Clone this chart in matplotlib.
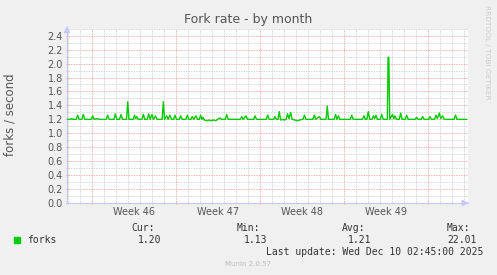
import numpy as np
import matplotlib.pyplot as plt
from matplotlib.ticker import MultipleLocator, FixedLocator, NullFormatter

# days since start of the graph window, and fork rate (forks / second)
days = [0.0, 0.3, 0.4, 0.5, 0.77, 0.89, 1.01, 1.24, 1.36, 1.48,
        2.02, 2.14, 2.26, 2.5, 2.7, 3.27, 3.39, 3.51, 3.91, 4.03, 4.15,
        4.38, 4.5, 4.62, 4.96, 5.06, 5.16, 5.51, 5.63, 5.72, 5.81, 5.93,
        6.24, 6.36, 6.48, 6.69, 6.81, 6.93, 7.08, 7.2, 7.38, 7.5,
        7.93, 8.03, 8.13, 8.31, 8.43, 8.58, 8.7, 8.88, 9.0, 9.12,
        9.36, 9.48, 9.6, 9.91, 10.03, 10.15, 10.32, 10.44, 10.56, 10.75, 10.87,
        11.02, 11.14, 11.24, 11.33, 11.45, 11.7, 11.85, 12.0, 12.2, 12.4, 12.55,
        12.75, 12.87, 13.19, 13.31, 13.43, 14.44, 14.56, 14.68, 14.92, 15.04,
        15.55, 15.67, 15.79, 16.61, 16.73, 16.85, 17.21, 17.33, 17.45, 17.59,
        17.69, 17.81, 18.0, 18.1, 18.26, 18.38, 18.5, 18.64, 18.76,
        19.0, 19.2, 19.4, 19.55, 19.67, 19.79, 19.91, 20.49, 20.61, 20.73,
        21.04, 21.16, 21.59, 21.69, 21.79, 22.26, 22.38, 22.5, 22.61, 22.73,
        23.61, 23.73, 23.85, 24.63, 24.75, 24.87, 24.99, 25.11, 25.23,
        25.42, 25.54, 25.64, 25.75, 25.87, 26.11, 26.23, 26.35,
        26.7, 26.76, 26.82, 26.9, 27.13, 27.23, 27.33, 27.45,
        27.69, 27.81, 27.93, 28.19, 28.31, 28.43, 29.02, 29.14, 29.26,
        29.52, 29.64, 29.76, 30.13, 30.25, 30.37, 30.63, 30.75, 30.87,
        31.03, 31.15, 31.31, 31.43, 32.26, 32.38, 32.5, 33.3]
forks = [1.20, 1.20, 1.21, 1.20, 1.20, 1.26, 1.20, 1.20, 1.27, 1.20,
         1.20, 1.25, 1.20, 1.21, 1.20, 1.20, 1.26, 1.20, 1.20, 1.28, 1.20,
         1.20, 1.27, 1.20, 1.20, 1.45, 1.20, 1.20, 1.26, 1.21, 1.24, 1.20,
         1.20, 1.27, 1.20, 1.20, 1.28, 1.20, 1.27, 1.20, 1.25, 1.20,
         1.20, 1.45, 1.20, 1.25, 1.20, 1.26, 1.20, 1.20, 1.26, 1.20,
         1.20, 1.25, 1.20, 1.20, 1.26, 1.20, 1.20, 1.24, 1.20, 1.25, 1.20,
         1.20, 1.26, 1.20, 1.23, 1.19, 1.18, 1.19, 1.18, 1.19, 1.18, 1.20,
         1.22, 1.20, 1.20, 1.27, 1.20, 1.20, 1.24, 1.20, 1.25, 1.20,
         1.20, 1.25, 1.20, 1.20, 1.26, 1.20, 1.20, 1.24, 1.20, 1.20,
         1.31, 1.19, 1.20, 1.19, 1.20, 1.28, 1.21, 1.30, 1.20,
         1.19, 1.18, 1.19, 1.20, 1.20, 1.26, 1.20, 1.20, 1.26, 1.20,
         1.24, 1.20, 1.20, 1.39, 1.20, 1.20, 1.27, 1.20, 1.25, 1.20,
         1.20, 1.26, 1.20, 1.20, 1.25, 1.20, 1.20, 1.31, 1.20,
         1.20, 1.25, 1.21, 1.26, 1.20, 1.20, 1.27, 1.20,
         1.20, 2.09, 2.09, 1.20, 1.27, 1.21, 1.25, 1.20,
         1.20, 1.29, 1.20, 1.20, 1.26, 1.20, 1.20, 1.23, 1.20,
         1.20, 1.24, 1.20, 1.20, 1.24, 1.20, 1.20, 1.26, 1.21,
         1.29, 1.21, 1.25, 1.20, 1.20, 1.26, 1.20, 1.20]

week_bounds = [2.083, 9.083, 16.083, 23.083, 30.083]
week_labels = ["Week 46", "Week 47", "Week 48", "Week 49"]
x_end = 33.42

legend_heads = ["Cur:", "Min:", "Avg:", "Max:"]
legend_vals = ["1.20", "1.13", "1.21", "22.01"]

fig = plt.figure(figsize=(4.97, 2.75), dpi=100, facecolor="#f0f0f0")
ax = fig.add_axes([67 / 497, 1 - 203 / 275, 401 / 497, (203 - 28.7) / 275])
ax.set_facecolor("white")

ax.plot(days, forks, color="#00cc00", lw=1.0, zorder=3)

ax.set_xlim(0, x_end)
ax.set_ylim(0, 2.5)

# grid: minor gray dotted, major light red dotted
ax.xaxis.set_minor_locator(FixedLocator(np.arange(week_bounds[0] % 1.0, x_end, 1.0)))
ax.xaxis.set_major_locator(FixedLocator(week_bounds))
ax.yaxis.set_major_locator(MultipleLocator(0.2))
ax.yaxis.set_minor_locator(MultipleLocator(0.1))
ax.grid(which="minor", color="#c8c8c8", ls=(0, (1, 1)), lw=0.6)
ax.grid(which="major", color="#e89a9a", ls=(0, (1, 1)), lw=0.6)
ax.xaxis.set_major_formatter(NullFormatter())
ax.yaxis.set_major_formatter(plt.FuncFormatter(lambda v, p: f"{v:.1f}"))
ax.tick_params(axis="both", which="both", colors="#cccccc", length=2, width=0.6,
               labelcolor="#555555", labelsize=7, direction="inout")
ax.tick_params(axis="x", which="major", colors="#e08080", labelcolor="#555555")
ax.tick_params(axis="y", which="major", colors="#e08080", labelcolor="#555555", pad=2)

for s in ["top", "right"]:
    ax.spines[s].set_visible(False)
for s in ["left", "bottom"]:
    ax.spines[s].set_color("#c8c8ff")
    ax.spines[s].set_linewidth(0.8)

# arrows at the ends of the axes
ax.annotate("", xy=(0, 2.58), xytext=(0, 2.45), xycoords="data",
            arrowprops=dict(arrowstyle="-|>", color="#c8c8ff", lw=0.8), annotation_clip=False)
ax.annotate("", xy=(x_end + 0.3, 0), xytext=(x_end - 0.3, 0), xycoords="data",
            arrowprops=dict(arrowstyle="-|>", color="#c8c8ff", lw=0.8), annotation_clip=False)

for i, lab in enumerate(week_labels):
    mid = (week_bounds[i] + week_bounds[i + 1]) / 2
    ax.text(mid, -0.06, lab, ha="center", va="top", fontsize=7, color="#555555")

fig.text(248 / 497, 1 - 19 / 275, "Fork rate - by month", ha="center", va="center",
         fontsize=9, color="#555555")
fig.text(10 / 497, 1 - 115 / 275, "forks / second", rotation=90, ha="center", va="center",
         fontsize=8.5, color="#555555")
fig.text(487 / 497, 1 - 5 / 275, "RRDTOOL / TOBI OETIKER", rotation=270, ha="center", va="top",
         fontsize=5.3, color="#cccccc")

# legend block
mono = "DejaVu Sans Mono"
fig.patches.append(plt.Rectangle((14 / 497, 1 - 243 / 275), 6 / 497, 6 / 275,
                                 transform=fig.transFigure, color="#00cc00", figure=fig))
fig.text(27 / 497, 1 - 240 / 275, "forks", ha="left", va="center", fontsize=7, family=mono, color="#333333")
head_right = [155, 260, 365, 470]
val_right = [161, 267, 371, 477]
for h, v, hr, vr in zip(legend_heads, legend_vals, head_right, val_right):
    fig.text(hr / 497, 1 - 228 / 275, h, ha="right", va="center", fontsize=7, family=mono, color="#333333")
    fig.text(vr / 497, 1 - 240 / 275, v, ha="right", va="center", fontsize=7, family=mono, color="#333333")
fig.text(483 / 497, 1 - 252 / 275, "Last update: Wed Dec 10 02:45:00 2025", ha="right", va="center",
         fontsize=7, family=mono, color="#333333")
fig.text(248 / 497, 1 - 264 / 275, "Munin 2.0.57", ha="center", va="center", fontsize=5, color="#bbbbbb")

fig.savefig("out.png", dpi=100, facecolor=fig.get_facecolor())
